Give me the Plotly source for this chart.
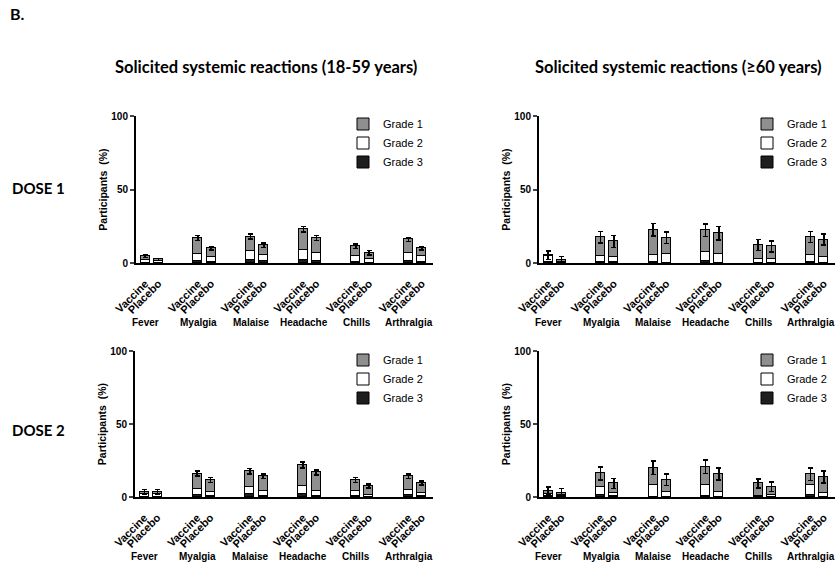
import plotly.graph_objects as go

symptoms = ["Fever", "Myalgia", "Malaise", "Headache", "Chills", "Arthralgia"]
groups = ["Vaccine", "Placebo"]
grades = ["Grade 1", "Grade 2", "Grade 3"]

# values interleaved: Vaccine, Placebo for each symptom (%)
# Dose 1, 18-59 years
d1_young_g1 = [2.5, 1.0, 11.0, 6.0, 10.0, 6.8, 14.4, 10.2, 7.0, 4.5, 9.2, 5.2]
d1_young_g2 = [1.7, 1.3, 4.4, 3.0, 6.2, 3.9, 6.4, 5.3, 3.8, 2.2, 5.3, 3.8]
d1_young_g3 = [0.3, 0.2, 1.6, 1.0, 1.8, 1.3, 2.2, 1.5, 0.7, 0.3, 1.5, 1.0]
d1_young_err = [0.9, 0.7, 1.6, 1.3, 1.7, 1.6, 2.0, 1.6, 1.5, 1.4, 1.5, 1.3]
# Dose 1, >=60 years
d1_old_g1 = [0.7, 1.5, 12.7, 10.7, 17.0, 11.1, 14.9, 14.3, 9.5, 8.6, 12.0, 12.0]
d1_old_g2 = [3.8, 0.2, 4.3, 3.2, 4.7, 6.0, 6.0, 6.0, 2.4, 2.5, 4.7, 3.6]
d1_old_g3 = [0.7, 0.3, 0.5, 0.8, 1.0, 0.1, 1.3, 0.1, 0.3, 0.2, 1.0, 0.3]
d1_old_err = [2.8, 2.5, 4.0, 4.1, 4.3, 3.8, 4.3, 4.6, 3.7, 3.7, 3.8, 3.8]
# Dose 2, 18-59 years
d2_young_g1 = [1.8, 1.8, 10.3, 8.4, 10.7, 10.2, 14.5, 12.5, 7.5, 6.1, 9.3, 6.5]
d2_young_g2 = [1.5, 1.6, 4.2, 2.7, 5.2, 3.1, 5.2, 3.3, 3.1, 1.1, 3.7, 2.5]
d2_young_g3 = [0.3, 0.2, 1.5, 0.5, 1.8, 1.0, 2.3, 1.0, 1.0, 0.3, 1.3, 0.5]
d2_young_err = [1.4, 1.4, 1.7, 1.6, 1.8, 1.6, 2.0, 1.8, 1.6, 1.4, 1.6, 1.4]
# Dose 2, >=60 years
d2_old_g1 = [2.3, 1.6, 9.1, 6.3, 11.6, 8.2, 12.7, 12.3, 8.3, 5.6, 7.6, 11.1]
d2_old_g2 = [1.5, 0.3, 5.8, 2.5, 8.1, 3.5, 7.0, 3.3, 0.5, 1.2, 6.7, 2.2]
d2_old_g3 = [0.5, 0.8, 1.2, 0.5, 0.3, 0.1, 1.0, 0.1, 0.5, 0.2, 1.2, 0.3]
d2_old_err = [2.7, 3.0, 4.6, 3.4, 4.5, 3.9, 4.5, 4.1, 3.0, 3.4, 4.3, 4.1]

panel_titles = ["Solicited systemic reactions (18-59 years)", "Solicited systemic reactions (\u226560 years)"]
dose_labels = ["DOSE 1", "DOSE 2"]
y_ticks = [0, 50, 100]

W, H = 837, 564
panels = [
    (d1_young_g1, d1_young_g2, d1_young_g3, d1_young_err),
    (d1_old_g1, d1_old_g2, d1_old_g3, d1_old_err),
    (d2_young_g1, d2_young_g2, d2_young_g3, d2_young_err),
    (d2_old_g1, d2_old_g2, d2_old_g3, d2_old_err),
]
# pixel layout of each panel: (left, right, top, bottom)
boxes = [(136, 433, 116, 263), (539, 835, 116, 263),
         (135, 433, 351, 497), (539, 835, 351, 497)]
legend_pos = [(343, 143), (747, 143), (343, 379), (747, 379)]

xpos = [4 * i + j for i in range(len(symptoms)) for j in range(len(groups))]
ticktext = [groups[j] for i in range(len(symptoms)) for j in range(len(groups))]

colors = {"Grade 1": "#8f8f8f", "Grade 2": "#ffffff", "Grade 3": "#1e1e1e"}
TICKFONT = dict(family="Liberation Sans, Arial", size=10, color="black", weight="bold")
XTICKFONT = TICKFONT | {"size": 11}

fig = go.Figure()
layout = {}
annotations = []
for p, (g1, g2, g3, err) in enumerate(panels):
    sfx = "" if p == 0 else str(p + 1)
    xa, ya = "x" + sfx, "y" + sfx
    lg = "legend" + sfx
    for name, vals in (("Grade 3", g3), ("Grade 2", g2), ("Grade 1", g1)):
        tr = dict(x=xpos, y=vals, name=name, xaxis=xa, yaxis=ya, legend=lg,
                  width=0.68, marker=dict(color=colors[name], line=dict(color="black", width=1)))
        if name == "Grade 1":
            tr["error_y"] = dict(type="data", array=err, color="black", thickness=1.5, width=2.5)
        fig.add_trace(go.Bar(**tr))
    l, r, t, b = boxes[p]
    layout["xaxis" + sfx] = dict(
        domain=[l / W, r / W], anchor=ya, range=[-0.7, 21.85], automargin=False,
        tickvals=xpos, ticktext=ticktext, tickangle=-45, tickfont=XTICKFONT,
        showline=True, linecolor="black", linewidth=2, ticks="outside", ticklen=8,
        tickcolor="rgba(0,0,0,0)", showgrid=False, zeroline=False)
    layout["yaxis" + sfx] = dict(
        domain=[1 - b / H, 1 - t / H], anchor=xa, range=[0, 100], tickvals=y_ticks,
        automargin=False,
        tickfont=TICKFONT, showline=True, linecolor="black", linewidth=2,
        ticks="outside", ticklen=4, tickwidth=2, showgrid=False, zeroline=False,
        title=dict(text="Participants  (%)", font=TICKFONT | {"size": 10.5}, standoff=2))
    lx, ly = legend_pos[p]
    layout[lg] = dict(x=lx / W, y=1 - ly / H, xanchor="left", yanchor="middle",
                      traceorder="reversed", bgcolor="rgba(0,0,0,0)",
                      font=dict(family="Liberation Sans, Arial", size=11, color="black"),
                      itemwidth=30, tracegroupgap=0)
    for i, s in enumerate(symptoms):
        annotations.append(dict(x=4 * i + 0.5, y=0, xref=xa, yref=ya, text=s, showarrow=False,
                                yanchor="middle", yshift=-59, xshift=-6,
                                font=TICKFONT))

for k, t in enumerate(panel_titles):
    annotations.append(dict(x=(266 if k == 0 else 678) / W, y=1 - 67 / H, xref="paper", yref="paper",
                            text=t, showarrow=False, xanchor="center", yanchor="middle",
                            font=dict(family="Lato, Carlito, sans-serif", size=16.5, color="black", weight="bold")))
for k, t in enumerate(dose_labels):
    annotations.append(dict(x=38 / W, y=1 - (188 if k == 0 else 430) / H, xref="paper", yref="paper",
                            text=t, showarrow=False, xanchor="center", yanchor="middle",
                            font=dict(family="Lato, Carlito, sans-serif", size=15, color="black", weight="bold")))
annotations.append(dict(x=8 / W, y=1 - 13 / H, xref="paper", yref="paper", text="B.", showarrow=False,
                        xanchor="left", yanchor="middle",
                        font=dict(family="Lato, Carlito, sans-serif", size=16, color="black", weight="bold")))

fig.update_layout(width=W, height=H, autosize=False,
                  margin=dict(l=0, r=0, t=0, b=0, autoexpand=False),
                  barmode="stack", bargap=0, plot_bgcolor="white", paper_bgcolor="white",
                  showlegend=True, annotations=annotations, **layout)
fig.write_html("out.html", config={"displayModeBar": False},
               post_script="document.body.style.margin='0';document.body.style.overflow='hidden';")
